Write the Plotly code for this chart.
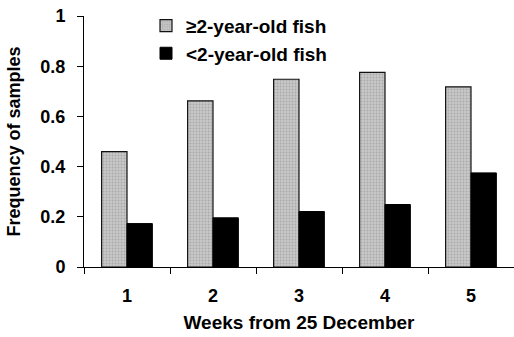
import plotly.graph_objects as go

weeks = ["1", "2", "3", "4", "5"]
older_fish = [0.46, 0.662, 0.748, 0.775, 0.718]
younger_fish = [0.173, 0.196, 0.221, 0.249, 0.375]
series_names = ["≥2-year-old fish", "<2-year-old fish"]

FONT = "Liberation Sans, Arial, sans-serif"

fig = go.Figure()
fig.add_trace(go.Bar(
    x=weeks, y=older_fish, name=series_names[0],
    marker=dict(color="#c0c0c0", line=dict(color="#111111", width=1.2),
                pattern=dict(shape=".", fgcolor="#888888", bgcolor="#c8c8c8", size=3, solidity=0.3)),
))
fig.add_trace(go.Bar(
    x=weeks, y=younger_fish, name=series_names[1],
    marker=dict(color="#000000", line=dict(color="#000000", width=1)),
))

fig.update_layout(
    width=514, height=337,
    margin=dict(l=84, r=0, t=16, b=70, autoexpand=False),
    paper_bgcolor="white", plot_bgcolor="white",
    barmode="group", bargap=0.41, bargroupgap=0,
    font=dict(family=FONT, size=18, color="black", weight=700),
    showlegend=True,
    legend=dict(x=(146 - 84) / 430, y=1.037, xanchor="left", yanchor="top",
                bgcolor="rgba(0,0,0,0)", font=dict(size=19, weight=700),
                itemwidth=30, tracegroupgap=0),
    xaxis=dict(
        type="category", range=[-0.5, 4.5], automargin=False,
        showline=True, linecolor="black", linewidth=1,
        ticks="outside", ticklen=6, tickcolor="black", tickson="boundaries",
        showgrid=False, zeroline=False,
        tickfont=dict(size=18, weight=700), ticklabelstandoff=12,
        title=dict(text="Weeks from 25 December", font=dict(size=19, weight=700), standoff=11),
    ),
    yaxis=dict(
        range=[0, 1], dtick=0.2, automargin=False,
        showline=True, linecolor="black", linewidth=1,
        ticks="outside", ticklen=6, tickcolor="black",
        showgrid=False, zeroline=False,
        tickfont=dict(size=18, weight=700), ticklabelstandoff=8,
        title=dict(text="Frequency of samples", font=dict(size=18, weight=700), standoff=15),
    ),
)

fig.write_html("out.html",
               config={"displayModeBar": False},
               post_script="document.body.style.margin='0';document.body.style.overflow='hidden';")
